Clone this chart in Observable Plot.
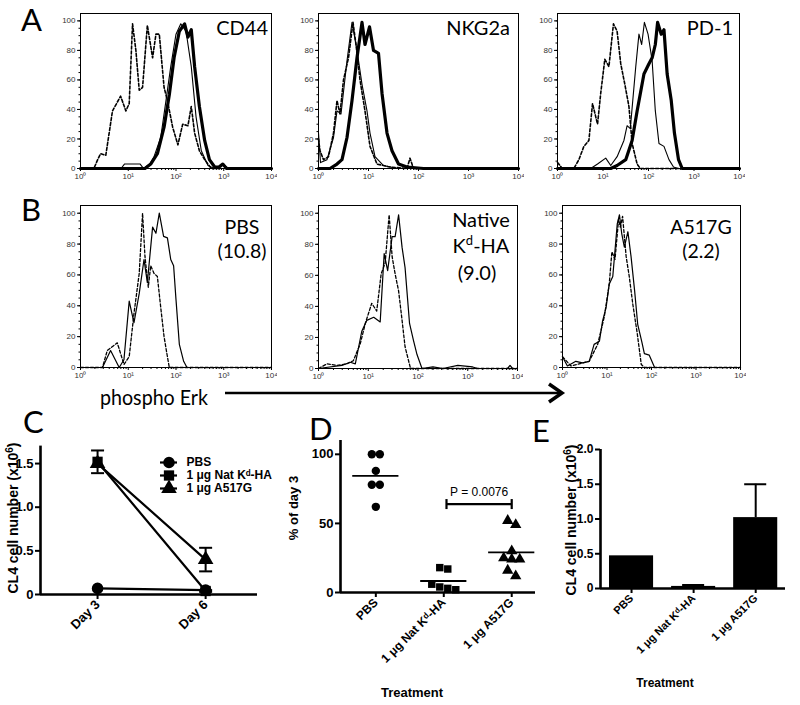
<!DOCTYPE html>
<html><head><meta charset="utf-8">
<script src="https://cdn.jsdelivr.net/npm/d3@7"></script>
<script src="https://cdn.jsdelivr.net/npm/@observablehq/plot@0.6"></script>
<style>
body{margin:0;background:#fff}
#root{position:relative;width:800px;height:705px;overflow:hidden;background:#fff}
</style></head>
<body><div id="root"></div>
<script>
// ---------- DATA ----------
// Histograms: [log10 fluorescence, % of max]
const cd44Dotted = [[0,0],[0.28,0],[0.36,6],[0.42,10],[0.53,9],[0.67,39],[0.84,49],[0.95,39],[1.02,44],[1.09,98],[1.16,80],[1.23,53],[1.30,55],[1.40,97],[1.51,75],[1.58,91],[1.65,91],[1.75,55],[1.82,46],[1.93,28],[2.04,16],[2.14,30],[2.25,29],[2.32,42],[2.39,24],[2.49,12],[2.60,6],[2.74,0],[2.92,0],[2.98,3],[3.04,0],[4,0]];
const cd44Thin = [[0,0],[0.85,0],[0.92,3],[1.25,3],[1.32,0],[1.45,3],[1.54,8],[1.68,21],[1.79,46],[1.89,69],[2.0,91],[2.1,98],[2.21,93],[2.32,69],[2.42,35],[2.53,12],[2.67,2],[2.8,0],[2.95,2],[3.02,2],[3.1,0],[4,0]];
const cd44Thick = [[0,0],[1.35,0],[1.47,3],[1.61,10],[1.75,28],[1.86,50],[1.96,75],[2.07,93],[2.18,98],[2.25,89],[2.32,94],[2.39,69],[2.49,42],[2.60,19],[2.70,6],[2.81,1],[2.9,1],[2.98,3],[3.06,0],[4,0]];

const nkgDotted = [[0,20],[0.03,12],[0.1,6],[0.2,8],[0.3,24],[0.37,46],[0.43,37],[0.5,60],[0.6,75],[0.69,99],[0.75,84],[0.83,60],[0.93,39],[1.03,15],[1.17,3],[1.43,1],[1.77,0],[1.83,7],[1.9,0],[4,0]];
const nkgThin = [[0,24],[0.04,4],[0.17,6],[0.3,21],[0.37,39],[0.45,37],[0.57,73],[0.67,99],[0.77,80],[0.87,57],[0.97,39],[1.03,24],[1.13,8],[1.3,2],[1.57,0],[4,0]];
const nkgThick = [[0,0],[0.23,0],[0.37,3],[0.47,6],[0.57,21],[0.67,46],[0.77,75],[0.87,99],[0.93,84],[1.02,96],[1.1,80],[1.2,78],[1.27,51],[1.37,24],[1.47,12],[1.6,3],[1.77,1],[2.1,0],[4,0]];

const pd1Dotted = [[0,4],[0.11,0],[0.36,0],[0.47,6],[0.58,15],[0.69,19],[0.77,44],[0.88,30],[0.95,51],[1.04,74],[1.13,69],[1.23,98],[1.31,93],[1.39,71],[1.48,57],[1.57,42],[1.64,17],[1.75,3],[1.82,0],[4,0]];
const pd1Thin = [[0,0],[0.73,0],[0.88,3],[1.06,7],[1.17,2],[1.31,8],[1.46,19],[1.53,29],[1.6,27],[1.72,69],[1.79,91],[1.85,84],[1.91,99],[1.99,91],[2.08,73],[2.15,39],[2.23,17],[2.34,15],[2.45,6],[2.55,1],[2.65,0],[4,0]];
const pd1Thick = [[0,0],[1.17,0],[1.31,2],[1.5,6],[1.64,19],[1.75,39],[1.9,64],[2.01,71],[2.08,75],[2.15,84],[2.2,99],[2.28,91],[2.34,94],[2.41,64],[2.5,46],[2.57,24],[2.66,6],[2.74,0],[4,0]];

const pbsDotted = [[0,0],[0.46,0],[0.56,11],[0.77,16],[0.91,2],[1.02,7],[1.12,35],[1.23,61],[1.3,100],[1.35,72],[1.42,52],[1.47,66],[1.54,61],[1.61,59],[1.68,39],[1.75,20],[1.82,7],[1.86,0],[4,0]];
const pbsSolid = [[0,0],[0.46,0],[0.63,11],[0.81,0],[0.91,5],[1.02,43],[1.12,29],[1.23,48],[1.33,70],[1.4,55],[1.51,91],[1.58,87],[1.65,100],[1.74,85],[1.82,84],[1.89,70],[1.95,66],[2.0,44],[2.07,15],[2.16,4],[2.23,0],[4,0]];
const natDotted = [[0,0],[0.17,3],[0.37,2],[0.57,3],[0.7,5],[0.84,16],[0.94,29],[1.07,42],[1.17,37],[1.26,61],[1.34,68],[1.42,99],[1.48,72],[1.54,61],[1.61,50],[1.68,31],[1.74,14],[1.85,0],[4,0]];
const natSolid = [[0,0],[0.47,2],[0.64,4],[0.74,3],[0.87,24],[0.97,31],[1.11,33],[1.24,30],[1.32,74],[1.39,63],[1.48,85],[1.54,85],[1.61,99],[1.68,78],[1.74,65],[1.83,29],[1.91,18],[1.98,9],[2.08,0],[2.3,1],[2.5,0],[2.8,2],[3.1,1],[3.2,0],[3.8,0],[3.85,2],[3.9,0],[4,0]];
const a517Solid = [[0,7],[0.11,1],[0.3,4],[0.45,3],[0.6,4],[0.71,15],[0.83,17],[0.9,30],[0.98,39],[1.05,54],[1.13,59],[1.23,93],[1.28,99],[1.33,87],[1.39,78],[1.47,88],[1.54,72],[1.62,50],[1.69,28],[1.78,17],[1.84,9],[1.95,8],[2.07,0],[4,0]];
const a517Dotted = [[0,7],[0.19,1],[0.6,4],[0.79,15],[0.94,33],[1.05,54],[1.11,75],[1.18,70],[1.26,96],[1.3,91],[1.35,98],[1.43,72],[1.5,59],[1.58,41],[1.68,22],[1.77,2],[1.84,0],[4,0]];

// Panel C
const days = ["Day 3", "Day 6"];
const cSeries = ["PBS", "1 μg Nat Kᵈ-HA", "1 μg A517G"];
const cPBS = [0.07, 0.05];
const cNat = [1.52, 0.04];
const cA517G = [1.50, 0.40];
const cNatErr = [0.13, 0.01];
const cA517GErr = [0.0, 0.135];
const cTicks = [0, 0.5, 1.0, 1.5];

// Panel D
const treatments = ["PBS", "1 μg Nat Kᵈ-HA", "1 μg A517G"];
const dPBS = [100, 100, 88, 78, 78, 62];
const dNat = [18, 17, 6, 4, 2, 3];
const dA517G = [52, 49, 30, 24, 24, 25, 16, 12];
const dTicks = [0, 50, 100];
const pValueLabel = "P = 0.0076";

// Panel E
const eMean = [0.47, 0.03, 1.02];
const eErr = [0.0, 0.02, 0.48];
const eTicks = [0, 0.5, 1.0, 1.5, 2.0];

// ---------- HELPERS ----------
const root = document.getElementById("root");
function place(node, left, top) {
  node.style.position = "absolute";
  node.style.left = left + "px";
  node.style.top = top + "px";
  node.style.maxWidth = "none";
  root.appendChild(node);
}
const supDigits = ["⁰","¹","²","³","⁴"];
const majorX = [1, 10, 100, 1000, 10000];
const minorX = d3.range(0, 4).flatMap(e => d3.range(2, 10).map(k => k * 10 ** e));
const capSymbol = {draw(ctx, size) { const r = Math.sqrt(size / Math.PI); ctx.moveTo(-r, 0); ctx.lineTo(r, 0); }};
const vSymbol = {draw(ctx, size) { const r = Math.sqrt(size / Math.PI); ctx.moveTo(0, -r); ctx.lineTo(0, r); }};
const ARIAL = "Arial, 'Liberation Sans', sans-serif";
const fmt1 = d => d === 0 ? "0" : d.toFixed(1);
const axesL = xd => [
  Plot.ruleX([xd[0]], {stroke: "#000", strokeWidth: 2.6}),
  Plot.ruleY([0], {stroke: "#000", strokeWidth: 2.6})
];

function hist(fx0, fx1, fy0, fy1, curves) {
  const mL = 32, mR = 6, mT = 6, mB = 24;
  const svg = Plot.plot({
    width: fx1 - fx0 + mL + mR, height: fy1 - fy0 + mT + mB,
    marginLeft: mL, marginRight: mR, marginTop: mT, marginBottom: mB,
    x: {type: "log", domain: [1, 1e4], label: null},
    y: {domain: [0, 105], label: null},
    style: {fontFamily: ARIAL, background: "transparent", color: "#000"},
    marks: [
      Plot.axisY({ticks: [0, 20, 40, 60, 80, 100], tickSize: 3, tickPadding: 2, fontSize: 8, fill: "#333"}),
      Plot.axisY({ticks: d3.range(0, 105, 5), tickSize: 1.5, tickFormat: () => ""}),
      Plot.axisX({ticks: majorX, tickFormat: d => "10" + supDigits[Math.round(Math.log10(d))], tickSize: 3, tickPadding: 2, fontSize: 8, fill: "#333"}),
      Plot.axisX({ticks: minorX, tickSize: 2, tickFormat: () => ""}),
      ...curves.map(c => Plot.line(c.data, {x: d => 10 ** d[0], y: d => d[1], stroke: "#000", strokeWidth: c.w, strokeDasharray: c.dash})),
      Plot.frame({stroke: "#000", strokeWidth: 1})
    ]
  });
  place(svg, fx0 - mL, fy0 - mT);
}

// ---------- PANEL A ----------
const dotted = d => ({data: d, w: 1.6, dash: "3,2"});
const thin = d => ({data: d, w: 1.1});
const thick = d => ({data: d, w: 3.2});
hist(80, 271, 13, 168, [dotted(cd44Dotted), thin(cd44Thin), thick(cd44Thick)]);
hist(318, 518, 13, 168, [dotted(nkgDotted), thin(nkgThin), thick(nkgThick)]);
hist(557, 739, 13, 168, [dotted(pd1Dotted), thin(pd1Thin), thick(pd1Thick)]);

// ---------- PANEL B ----------
const bDot = d => ({data: d, w: 1.3, dash: "3,2"});
const bSol = d => ({data: d, w: 1.2});
hist(80, 271, 205, 367, [bDot(pbsDotted), bSol(pbsSolid)]);
hist(318, 517, 205, 368, [bDot(natDotted), bSol(natSolid)]);
hist(562, 740, 205, 367, [bDot(a517Dotted), bSol(a517Solid)]);

// ---------- PANEL C ----------
{
  const rows = [];
  const addSeries = (name, vals, errs) => vals.forEach((v, i) => rows.push({series: name, day: i, value: v, err: errs ? errs[i] : 0}));
  addSeries(cSeries[2], cA517G, cA517GErr);
  addSeries(cSeries[1], cNat, cNatErr);
  addSeries(cSeries[0], cPBS, null);
  const errRows = rows.filter(d => d.err > 0);
  const xDom = [-0.528, 1.48], yDom = [0, 1.7];
  const svg = Plot.plot({
    width: 270, height: 240,
    marginLeft: 40, marginRight: 13, marginTop: 15.6, marginBottom: 76,
    x: {domain: xDom, label: null},
    y: {domain: yDom, label: null},
    symbol: {domain: cSeries, range: ["circle", "square", "triangle"]},
    style: {fontFamily: ARIAL, fontWeight: "bold", background: "transparent", color: "#000"},
    marks: [
      Plot.axisY({ticks: cTicks, tickFormat: fmt1, tickSize: 5, tickPadding: 2, fontSize: 13, fontWeight: "bold", strokeWidth: 2}),
      Plot.axisX({ticks: [0, 1], tickFormat: i => days[i], tickRotate: -45, tickSize: 5, tickPadding: 3, fontSize: 13, fontWeight: "bold", strokeWidth: 2}),
      ...axesL(xDom),
      Plot.line(rows, {x: "day", y: "value", z: "series", stroke: "#000", strokeWidth: 2.2}),
      Plot.ruleX(errRows, {x: "day", y1: d => d.value - d.err, y2: d => d.value + d.err, stroke: "#000", strokeWidth: 2}),
      Plot.dot(errRows, {x: "day", y: d => d.value + d.err, symbol: capSymbol, r: 6.5, stroke: "#000", strokeWidth: 2}),
      Plot.dot(errRows, {x: "day", y: d => d.value - d.err, symbol: capSymbol, r: 6.5, stroke: "#000", strokeWidth: 2}),
      Plot.dot(rows, {x: "day", y: "value", symbol: "series", fill: "#000", r: 5.8})
    ]
  });
  place(svg, 0, 430);

  // legend
  const leg = Plot.plot({
    width: 125, height: 62, margin: 0,
    x: {domain: [0, 125], axis: null},
    y: {type: "point", domain: cSeries, range: [12, 51], axis: null},
    symbol: {domain: cSeries, range: ["circle", "square", "triangle"]},
    style: {fontFamily: ARIAL, background: "transparent"},
    marks: [
      Plot.ruleY(cSeries, {y: d => d, x1: 5, x2: 22, stroke: "#000", strokeWidth: 2.2}),
      Plot.dot(cSeries, {y: d => d, x: 13.5, symbol: d => d, fill: "#000", r: 5.8}),
      Plot.text(cSeries, {y: d => d, x: 31, text: d => d, textAnchor: "start", fontSize: 12, fontWeight: "bold", fill: "#000"})
    ]
  });
  place(leg, 155, 443);
}

// ---------- PANEL D ----------
{
  const groups = [dPBS, dNat, dA517G];
  const symbols = ["circle", "square", "triangle"];
  const pts = [];
  groups.forEach((vals, gi) => {
    const sorted = vals.slice().sort((a, b) => b - a);
    let cluster = [];
    const flush = () => { cluster.forEach((v, k) => pts.push({g: gi, v, off: (k - (cluster.length - 1) / 2) * 8, sym: symbols[gi]})); cluster = []; };
    sorted.forEach(v => { if (cluster.length && cluster[0] - v > 4) flush(); cluster.push(v); });
    flush();
  });
  const means = groups.map((vals, i) => ({i, mean: d3.mean(vals)}));
  const offs = Array.from(new Set(pts.map(d => d.off)));
  const bracketY = d3.max(dA517G) + 12;
  const xDom = [-0.52, 2.35], yDom = [0, 110];
  const svg = Plot.plot({
    width: 255, height: 275,
    marginLeft: 50, marginRight: 10, marginTop: 10, marginBottom: 113,
    x: {domain: xDom, label: null},
    y: {domain: yDom, label: null},
    style: {fontFamily: ARIAL, fontWeight: "bold", background: "transparent", color: "#000"},
    marks: [
      Plot.axisY({ticks: dTicks, tickSize: 5, tickPadding: 2, fontSize: 13, fontWeight: "bold", strokeWidth: 2}),
      Plot.axisX({ticks: [0, 1, 2], tickFormat: i => treatments[i], tickRotate: -45, tickSize: 5, tickPadding: 3, fontSize: 12, fontWeight: "bold", strokeWidth: 2}),
      ...axesL(xDom),
      ...offs.map(o => Plot.dot(pts.filter(d => d.off === o), {x: "g", y: "v", symbol: "sym", fill: "#000", r: 4.2, dx: o})),
      Plot.ruleY(means, {y: "mean", x1: d => d.i - 0.34, x2: d => d.i + 0.34, stroke: "#000", strokeWidth: 1.8}),
      Plot.ruleY([bracketY], {x1: 1.04, x2: 2, stroke: "#000", strokeWidth: 2.2}),
      Plot.dot([1.04, 2], {x: d => d, y: bracketY, symbol: vSymbol, r: 5, stroke: "#000", strokeWidth: 2.2}),
      Plot.text([pValueLabel], {x: 1.52, y: bracketY + 8.5, text: d => d, fontSize: 12, fontWeight: "normal", fill: "#000"})
    ]
  });
  place(svg, 290, 430);
}

// ---------- PANEL E ----------
{
  const rows = treatments.map((t, i) => ({i, v: eMean[i], e: eErr[i]}));
  const errRows = rows.filter(d => d.e > 0);
  const xDom = [-0.5, 2.48], yDom = [0, 2];
  const half = 0.355;
  const svg = Plot.plot({
    width: 265, height: 275,
    marginLeft: 70, marginRight: 10, marginTop: 19, marginBottom: 117,
    x: {domain: xDom, label: null},
    y: {domain: yDom, label: null},
    style: {fontFamily: ARIAL, fontWeight: "bold", background: "transparent", color: "#000"},
    marks: [
      Plot.axisY({ticks: eTicks, tickFormat: fmt1, tickSize: 5, tickPadding: 2, fontSize: 12, fontWeight: "bold", strokeWidth: 2}),
      Plot.axisX({ticks: [0, 1, 2], tickFormat: i => treatments[i], tickRotate: -45, tickSize: 5, tickPadding: 3, fontSize: 11, fontWeight: "bold", strokeWidth: 2}),
      Plot.ruleX(errRows, {x: "i", y1: "v", y2: d => d.v + d.e, stroke: "#000", strokeWidth: 2}),
      Plot.ruleY(errRows, {y: d => d.v + d.e, x1: d => d.i - half / 2, x2: d => d.i + half / 2, stroke: "#000", strokeWidth: 2}),
      Plot.rectY(rows, {x1: d => d.i - half, x2: d => d.i + half, y: "v", fill: "#000"}),
      ...axesL(xDom)
    ]
  });
  place(svg, 530, 430);
}

// ---------- ANNOTATIONS ----------
{
  const ns = "http://www.w3.org/2000/svg";
  const ov = document.createElementNS(ns, "svg");
  ov.setAttribute("width", 800); ov.setAttribute("height", 705);
  ov.style.pointerEvents = "none";
  const L = "font-family:Lato,'Open Sans',sans-serif";
  const B = "font-family:Arial,'Liberation Sans',sans-serif;font-weight:bold";
  ov.innerHTML = `
  <g style="${L}" fill="#000">
    <text x="21" y="31" font-size="31">A</text>
    <text x="21" y="221" font-size="31">B</text>
    <text x="23" y="433" font-size="31">C</text>
    <text x="309" y="440" font-size="31">D</text>
    <text x="532" y="442" font-size="31">E</text>
    <text x="268" y="35" font-size="20" text-anchor="end">CD44</text>
    <text x="510" y="35" font-size="20" text-anchor="end">NKG2a</text>
    <text x="733" y="35" font-size="20" text-anchor="end">PD-1</text>
    <text x="242" y="234" font-size="19.5" text-anchor="middle">PBS</text>
    <text x="242" y="258" font-size="19.5" text-anchor="middle">(10.8)</text>
    <text x="481" y="227" font-size="20" text-anchor="middle">Native</text>
    <text x="481" y="253" font-size="20" text-anchor="middle">K<tspan dy="-8" font-size="13">d</tspan><tspan dy="8">-HA</tspan></text>
    <text x="477" y="280" font-size="20" text-anchor="middle">(9.0)</text>
    <text x="701" y="234" font-size="19.5" text-anchor="middle">A517G</text>
    <text x="701" y="258" font-size="19.5" text-anchor="middle">(2.2)</text>
    <text x="100" y="405" font-size="21" textLength="108" lengthAdjust="spacingAndGlyphs">phospho Erk</text>
  </g>
  <line x1="225" y1="393" x2="561" y2="393" stroke="#000" stroke-width="2.5"/>
  <polyline points="549,384 562,393 549,402" fill="none" stroke="#000" stroke-width="3.5"/>
  <g style="${B}" fill="#000">
    <text transform="translate(18,518) rotate(-90)" font-size="14" text-anchor="middle">CL4 cell number (x10<tspan dy="-5" font-size="10">6</tspan><tspan dy="5">)</tspan></text>
    <text transform="translate(576,520) rotate(-90)" font-size="14" text-anchor="middle">CL4 cell number (x10<tspan dy="-5" font-size="10">6</tspan><tspan dy="5">)</tspan></text>
    <text transform="translate(298,508) rotate(-90)" font-size="13" text-anchor="middle">% of day 3</text>
    <text x="412" y="697" font-size="13" text-anchor="middle">Treatment</text>
    <text x="665" y="687" font-size="12" text-anchor="middle">Treatment</text>
  </g>`;
  place(ov, 0, 0);
}
</script>
</body></html>
